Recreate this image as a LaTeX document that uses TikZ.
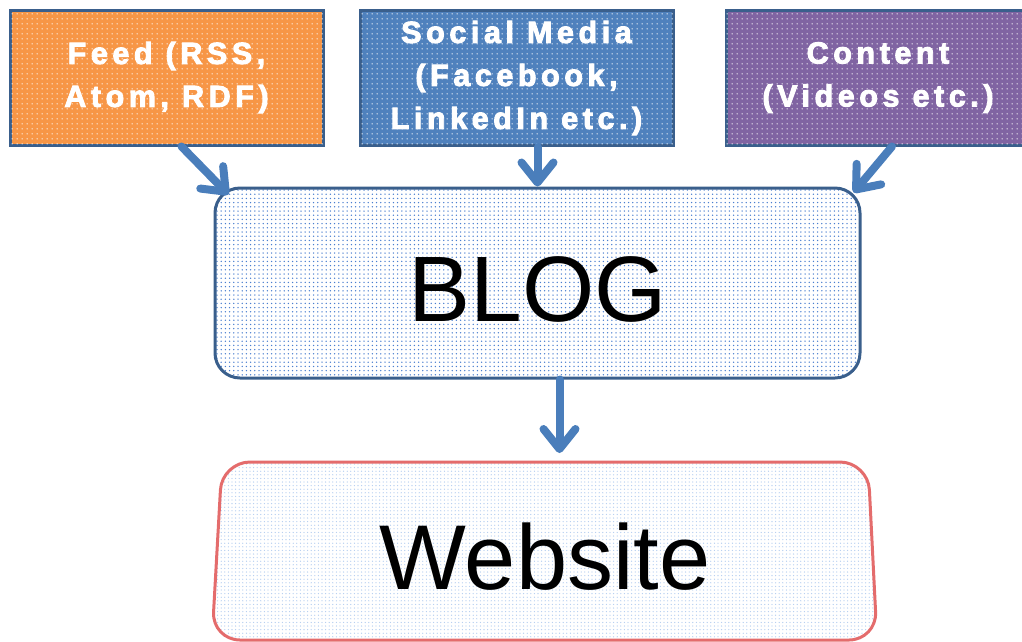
\documentclass[tikz,border=0pt]{standalone}
\usepackage{fontspec}
\setmainfont{Liberation Sans}
\newfontfamily\boxfont{Liberation Sans}[LetterSpace=15,FakeBold=3]
\usetikzlibrary{arrows.meta,patterns.meta}

\definecolor{feedorange}{HTML}{F79646}
\definecolor{socialblue}{HTML}{4F81BD}
\definecolor{contentpurple}{HTML}{8064A2}
\definecolor{boxedge}{HTML}{3A5F8C}
\definecolor{arrowblue}{HTML}{4A7EBB}
\definecolor{webedge}{HTML}{E46C6C}
\definecolor{blogdot}{HTML}{4A7FD0}
\definecolor{webdot}{HTML}{B2CCF0}
\definecolor{texdot}{HTML}{FFFFFF}

% faint light texture for the three source boxes
\tikzdeclarepattern{
  name=softdots,
  type=colored,
  bottom left={(0pt,0pt)},
  top right={(5pt,5pt)},
  tile size={(5pt,5pt)},
  code={\fill[texdot, opacity=0.18] (2.5pt,2.5pt) circle (0.8pt);}
}

\begin{document}
\begin{tikzpicture}[x=1pt,y=-1pt,
  % a row of round dots, drawn as a dashed line
  dotrow/.style={line width=#1, line cap=round, dash pattern=on 0pt off 4.2pt},
  srcbox/.style={draw=boxedge, line width=3pt, minimum width=313pt,
    minimum height=135pt, inner sep=0pt, text=white, align=center,
    postaction={pattern=softdots},
    font=\boxfont\bfseries\fontsize{30.5}{43}\selectfont},
  blogbox/.style={draw=boxedge, line width=3pt, rounded corners=25pt,
    fill=white, minimum width=645pt, minimum height=190pt, inner sep=0pt,
    font=\fontsize{93}{100}\selectfont, text height=77.6pt, text depth=0pt,
    path picture={
      \foreach \k in {0,...,46}
        \draw[dotrow=1.5pt, blogdot, dash pattern=on 0pt off 4.2pt]
          ([shift={(2,2+4.2*\k)}]path picture bounding box.north west)
          -- ([shift={(0,2+4.2*\k)}]path picture bounding box.north east);
    }},
  webbox/.style={draw=webedge, line width=3pt, rounded corners=28pt,
    fill=white,
    path picture={
      \foreach \k in {0,...,50}
        \draw[dotrow=1.3pt, webdot, dash pattern=on 0pt off 3.6pt]
          ([shift={(2,2+3.6*\k)}]path picture bounding box.north west)
          -- ([shift={(0,2+3.6*\k)}]path picture bounding box.north east);
    }},
  webtext/.style={font=\fontsize{92}{100}\selectfont, inner sep=0pt,
    text height=65.9pt, text depth=0pt},
  flow/.style={draw=arrowblue, line width=8pt, line cap=round,
    -{Straight Barb[length=20pt,width=32pt,round]}},
 ]
\useasboundingbox (0,0) rectangle (1022,641);
\clip (0,0) rectangle (1022,641);

% sources
\node[srcbox, fill=feedorange] (feed) at (166.5,77.5) {Feed (RSS,\\Atom, RDF)};
\node[srcbox, fill=socialblue] (social) at (516.5,78) {Social Media\\(Facebook,\\LinkedIn etc.)};
\node[srcbox, fill=contentpurple, minimum width=304pt] (content) at (878,77.5) {Content\\(Videos etc.)};

% blog
\node[blogbox] (blog) at (537.5,283) {BLOG};

% website (slightly widening towards the bottom)
\draw[webbox] (222,462) -- (868,462) -- (877,640) -- (212,640) -- cycle;
\coordinate (webtop) at (545,462);
\node[webtext] (website) at (545,557) {Website};

% connectors
\draw[flow] ([xshift=15pt]feed.south) -- ([shift={(15,8)}]blog.north west);
\draw[flow] (blog.north |- social.south) -- (blog.north);
\draw[flow] ([xshift=14pt]content.south) -- ([shift={(-8,6)}]blog.north east);
\draw[flow, shorten >=9pt] ([xshift=22pt]blog.south) -- ([xshift=22pt]blog.south |- webtop);
\end{tikzpicture}
\end{document}
